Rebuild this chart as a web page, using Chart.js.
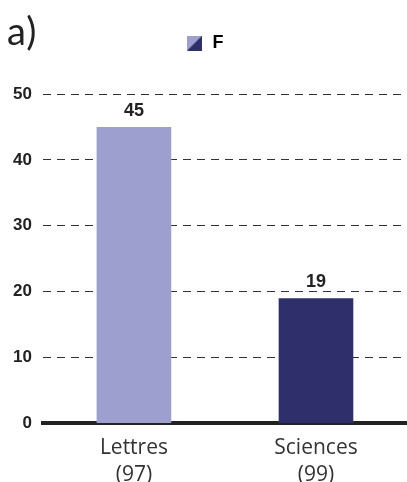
<!DOCTYPE html>
<html><head><meta charset="utf-8">
<script src="https://cdn.jsdelivr.net/npm/chart.js@4"></script>
<style>
html,body{margin:0;padding:0;background:#fff;overflow:hidden;width:407px;height:482px;}
#wrap{position:relative;width:407px;height:500px;}
#title{position:absolute;left:7px;top:11px;font-family:Lato,"Open Sans",sans-serif;font-size:38px;font-weight:400;color:#222;line-height:1;letter-spacing:1px;}
</style></head>
<body>
<div id="wrap"><canvas id="c"></canvas><div id="title">a)</div></div>
<script>
const categories = [["Lettres","(97)"],["Sciences","(99)"]];
const seriesName = "F";
const values = [45, 19];
const barColors = ["#9d9fce", "#2f2f6b"];
const yTicks = [0, 10, 20, 30, 40, 50];

// legend swatch: diagonal split light/dark
const sw = document.createElement('canvas');
sw.width = 15; sw.height = 15;
const sctx = sw.getContext('2d');
sctx.fillStyle = barColors[0]; sctx.beginPath(); sctx.moveTo(0,0); sctx.lineTo(15,0); sctx.lineTo(0,15); sctx.closePath(); sctx.fill();
sctx.fillStyle = barColors[1]; sctx.beginPath(); sctx.moveTo(15,0); sctx.lineTo(15,15); sctx.lineTo(0,15); sctx.closePath(); sctx.fill();

const legendSpacer = {
  id: 'legendSpacer',
  beforeInit(chart) {
    const orig = chart.legend.fit;
    chart.legend.fit = function() { orig.call(this); this.height += 32; };
  }
};

const valueLabels = {
  id: 'valueLabels',
  afterDatasetsDraw(chart) {
    const ctx = chart.ctx;
    const meta = chart.getDatasetMeta(0);
    ctx.save();
    ctx.font = 'bold 18px "Liberation Sans", Arial, sans-serif';
    ctx.fillStyle = '#222';
    ctx.textAlign = 'center';
    ctx.textBaseline = 'bottom';
    meta.data.forEach((bar, i) => {
      ctx.fillText(String(chart.data.datasets[0].data[i]), bar.x, bar.y - 7);
    });
    ctx.restore();
  }
};

new Chart(document.getElementById('c'), {
  type: 'bar',
  data: {
    labels: categories,
    datasets: [{
      label: seriesName,
      data: values,
      backgroundColor: barColors,
      borderWidth: 0,
      barPercentage: 0.82,
      categoryPercentage: 0.5
    }]
  },
  options: {
    responsive: true,
    maintainAspectRatio: false,
    animation: false,
    layout: { padding: { top: 26, right: 0, left: 2, bottom: 0 } },
    plugins: {
      tooltip: { enabled: false },
      legend: {
        display: true,
        position: 'top',
        labels: {
          usePointStyle: true,
          pointStyle: sw,
          padding: 8,
          color: '#222',
          font: { family: '"Liberation Sans", Arial, sans-serif', size: 18, weight: 'bold' },
          generateLabels: (chart) => [{ text: seriesName, pointStyle: sw, fillStyle: barColors[1], strokeStyle: 'transparent', lineWidth: 0, datasetIndex: 0 }]
        }
      }
    },
    scales: {
      x: {
        grid: { display: false, drawTicks: false },
        border: { display: true, width: 4, color: '#222' },
        ticks: {
          color: '#333',
          padding: 11,
          font: { family: '"Open Sans", sans-serif', size: 21, lineHeight: 1.3 }
        }
      },
      y: {
        min: 0, max: 50,
        afterBuildTicks: (s) => { s.ticks = yTicks.map(v => ({ value: v })); },
        grid: { color: '#333', lineWidth: 1, drawTicks: false },
        border: { display: false, dash: [8, 6] },
        ticks: {
          color: '#222',
          padding: 11,
          font: { family: '"Liberation Sans", Arial, sans-serif', size: 17, weight: 'bold' }
        }
      }
    }
  },
  plugins: [legendSpacer, valueLabels]
});
</script>
</body></html>
